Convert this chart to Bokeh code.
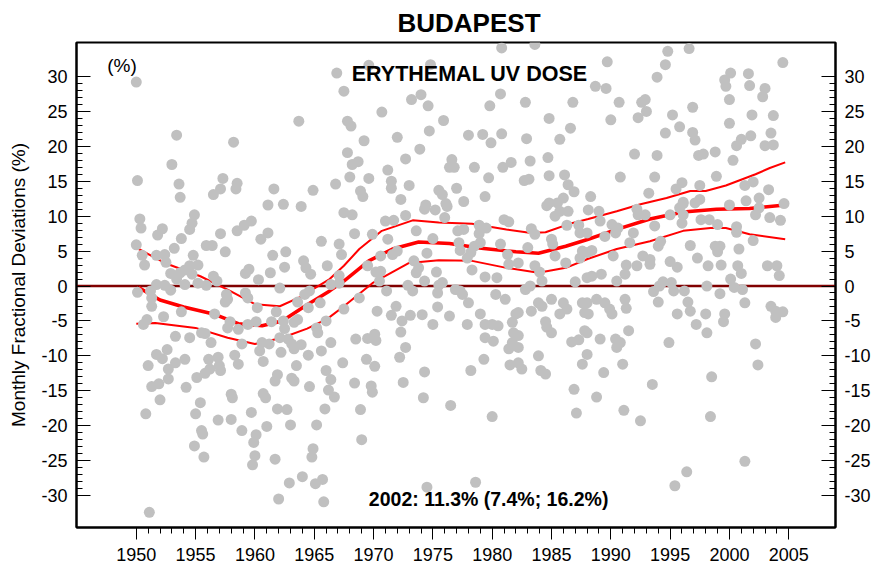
from bokeh.plotting import figure
from bokeh.models import (Range1d, LinearAxis, FixedTicker, Span, Label, Title,
                          ColumnDataSource, PrintfTickFormatter)
from bokeh.embed import file_html
from bokeh.resources import INLINE

# ---------------- data ----------------
# monthly fractional deviations (%), grouped by region of the chart
yr_a1 = [1950.0, 1966.9, 1967.5, 1963.7, 1953.4, 1958.2, 1953.0, 1950.1, 1953.6, 1953.7,
         1957.3, 1958.5, 1958.4, 1957.1, 1956.5, 1961.6, 1964.9, 1966.8, 1961.1, 1962.4,
         1963.9]
dv_a1 = [29.2, 30.5, 27.9, 23.6, 21.6, 20.6, 17.4, 15.1, 14.6, 12.7,
         15.4, 14.7, 13.9, 13.9, 13.1, 13.9, 13.7, 14.6, 11.6, 11.7,
         11.4]

yr_a2 = [1967.5, 1950.3, 1950.4, 1954.9, 1954.7, 1954.5, 1952.2, 1951.8, 1953.8, 1953.2,
         1950.0, 1950.5, 1950.7, 1951.7, 1952.4, 1952.5, 1957.1, 1958.5, 1959.1, 1959.7,
         1961.1, 1960.5, 1955.9, 1956.4, 1957.5, 1954.8, 1961.5, 1962.6, 1965.6, 1967.1,
         1967.3, 1962.5, 1964.1, 1964.7, 1964.3, 1966.1, 1961.3, 1959.5, 1959.2, 1960.3,
         1955.2, 1954.5, 1954.1, 1953.7, 1952.9, 1953.4, 1954.7, 1956.5, 1956.8, 1955.9,
         1955.2, 1954.1, 1952.9, 1952.4, 1951.7, 1951.2, 1950.1, 1962.1, 1957.6, 1957.7,
         1957.5, 1959.2, 1959.4, 1964.2, 1964.6, 1966.4, 1967.1, 1951.3, 1951.3, 1963.6,
         1965.5, 1967.5, 1964.5, 1960.2, 1961.8, 1953.8, 1956.6, 1952.3, 1950.9, 1950.6,
         1957.9, 1957.7, 1958.6, 1959.4, 1960.1, 1961.4, 1962.4, 1962.5, 1963.3, 1963.6,
         1966.0, 1965.2, 1965.3, 1953.3, 1954.5, 1955.5, 1955.8, 1956.3, 1958.9, 1960.6,
         1960.4, 1961.2, 1962.1, 1962.8, 1963.1, 1963.9, 1963.3, 1964.5, 1966.4, 1965.6,
         1967.4, 1951.7, 1952.6, 1951.0, 1952.2, 1953.3, 1954.1, 1952.7, 1956.1, 1956.9,
         1958.3, 1958.6, 1957.0, 1956.2, 1960.7, 1963.5, 1962.2]
dv_a2 = [10.5, 9.6, 8.3, 10.2, 9.0, 8.1, 8.2, 7.3, 6.8, 5.4,
         5.9, 4.4, 3.0, 4.4, 4.5, 3.4, 7.5, 7.9, 8.7, 9.3,
         7.6, 6.7, 5.8, 5.8, 4.9, 4.4, 4.4, 4.9, 6.4, 6.0,
         4.5, 2.7, 3.6, 1.7, 2.6, 2.9, 1.9, 2.4, 1.8, 0.9,
         3.0, 2.9, 2.3, 1.9, 1.8, 1.0, 1.7, 1.4, 0.7, 0.1,
         0.4, 0.2, -0.6, 0.1, 0.2, -0.7, -0.9, -0.3, -1.2, -1.9,
         -2.3, -1.0, -1.7, -1.2, -0.7, 0.2, 0.4, -1.7, -2.9, -2.3,
         -2.4, -3.3, -3.1, -3.1, -3.7, -3.7, -4.0, -4.4, -4.8, -5.5,
         -5.1, -6.0, -6.2, -5.5, -5.1, -5.1, -5.0, -6.1, -5.2, -4.8,
         -5.0, -6.0, -6.7, -7.2, -7.4, -6.7, -6.8, -8.1, -8.3, -8.1,
         -9.3, -8.3, -7.4, -7.6, -8.3, -8.4, -9.0, -9.9, -8.1, -9.3,
         -11.0, -9.8, -9.1, -11.4, -10.4, -11.0, -10.5, -11.9, -10.5, -10.2,
         -9.9, -11.2, -11.4, -11.9, -10.8, -11.4, -9.5]

yr_a3 = [1951.3, 1951.9, 1952.7, 1952.0, 1950.8, 1951.1, 1954.2, 1955.1, 1955.8, 1957.1,
         1955.4, 1955.0, 1955.5, 1955.6, 1954.9, 1955.7, 1956.9, 1958.0, 1958.1, 1958.0,
         1958.9, 1959.7, 1960.1, 1959.9, 1960.0, 1959.8, 1960.7, 1960.9, 1961.0, 1961.7,
         1961.7, 1961.9, 1961.9, 1962.7, 1963.0, 1963.1, 1963.3, 1962.0, 1962.9, 1964.0,
         1964.6, 1965.2, 1964.9, 1964.8, 1965.1, 1965.7, 1965.8, 1965.9, 1966.0, 1966.4,
         1966.2, 1966.7]
dv_a3 = [-14.4, -14.0, -13.3, -16.3, -18.3, -32.4, -14.5, -13.1, -12.5, -12.1,
         -16.7, -18.3, -20.7, -21.2, -22.9, -24.5, -19.2, -15.5, -16.0, -19.1,
         -20.7, -18.1, -21.3, -22.4, -24.3, -25.6, -15.4, -16.0, -20.1, -24.8,
         -13.6, -12.7, -17.6, -17.7, -19.9, -13.2, -13.6, -30.5, -28.2, -27.3,
         -14.4, -19.9, -23.3, -24.5, -28.3, -27.7, -30.9, -17.6, -12.1, -13.4,
         -14.9, -15.9]

yr_b1 = [1980.8, 1983.6, 1969.6, 1974.8, 1974.0, 1973.2, 1974.6, 1970.7, 1980.7, 1979.8,
         1982.8, 1986.8, 1984.8, 1986.6, 1985.7, 1967.8, 1968.1, 1975.9, 1974.7, 1972.0,
         1969.2, 1978.0, 1979.2, 1979.9, 1980.8, 1982.9, 1973.9, 1972.7, 1967.8, 1968.2,
         1968.7, 1968.0, 1969.6, 1971.2, 1971.5, 1971.5, 1973.0, 1976.6, 1976.4, 1976.8,
         1978.5, 1979.7, 1980.9, 1981.6, 1983.2, 1984.7, 1984.8, 1986.1, 1982.7, 1983.1,
         1986.4, 1986.9, 1975.5, 1975.8, 1977.0, 1979.4, 1972.3, 1968.9, 1969.1, 1986.0,
         1984.8, 1976.1, 1977.6, 1974.4]
dv_b1 = [34.1, 34.6, 31.6, 31.7, 27.4, 26.7, 25.8, 24.9, 27.5, 25.8,
         26.3, 26.3, 24.0, 22.6, 21.0, 23.6, 22.9, 23.7, 22.2, 21.3,
         20.8, 21.6, 21.7, 20.5, 21.8, 21.1, 19.6, 18.2, 19.1, 17.4,
         17.8, 15.6, 15.4, 16.6, 15.0, 14.0, 14.4, 18.1, 17.0, 17.0,
         17.0, 15.5, 17.0, 17.7, 17.9, 18.4, 15.8, 15.9, 15.1, 15.3,
         14.5, 13.5, 13.7, 13.1, 14.0, 12.8, 12.4, 13.6, 12.8, 12.6,
         11.9, 11.8, 12.1, 11.6]

yr_b2 = [1976.2, 1968.2, 1968.4, 1971.0, 1971.7, 1972.7, 1974.3, 1975.2, 1976.0, 1969.9,
         1971.2, 1973.6, 1975.0, 1977.1, 1977.6, 1978.9, 1979.5, 1981.0, 1981.4, 1978.9,
         1979.0, 1978.5, 1977.2, 1977.3, 1980.7, 1983.0, 1983.3, 1983.6, 1984.6, 1985.5,
         1985.7, 1986.4, 1985.3, 1985.0, 1985.1, 1986.3, 1987.3, 1987.4, 1987.6, 1987.4,
         1985.3, 1986.2, 1969.5, 1970.2, 1970.6, 1970.5, 1970.6, 1971.6, 1972.0, 1973.4,
         1973.6, 1973.8, 1974.3, 1972.9, 1974.5, 1975.3, 1977.9, 1978.2, 1978.3, 1979.4,
         1980.4, 1981.3, 1981.4, 1982.2, 1983.6, 1984.0, 1982.8, 1983.2, 1984.2, 1987.0,
         1967.1, 1968.8, 1971.1, 1973.3, 1975.5, 1975.4, 1975.8, 1976.9, 1977.3, 1977.5,
         1978.0, 1980.3, 1981.1, 1975.4, 1971.9, 1970.3, 1971.5, 1972.4, 1973.1, 1974.1,
         1976.4, 1977.9, 1979.0, 1979.4, 1980.0, 1980.5, 1981.7, 1982.2, 1982.0, 1983.3,
         1983.9, 1984.2, 1985.0, 1984.5, 1984.6, 1986.0, 1986.3, 1987.6, 1987.8, 1985.7,
         1981.8, 1982.2, 1981.7, 1980.1, 1968.5, 1969.5, 1970.2, 1970.1, 1972.3, 1972.7,
         1972.2, 1969.4, 1970.1, 1979.4, 1979.3, 1981.4, 1982.2, 1983.9, 1985.0, 1986.7,
         1987.3, 1987.8, 1988.0, 1975.0]
dv_b2 = [11.4, 10.2, 7.5, 9.3, 9.4, 10.1, 11.0, 10.9, 9.8, 7.4,
         6.7, 7.9, 6.8, 7.9, 8.1, 8.7, 8.3, 9.5, 9.2, 7.5,
         6.2, 5.7, 6.2, 5.1, 6.0, 5.5, 8.2, 7.4, 11.5, 11.9,
         10.7, 10.7, 10.0, 6.7, 6.0, 8.7, 8.7, 7.6, 5.0, 4.0,
         4.3, 3.3, 2.9, 2.0, 2.1, 0.7, 4.3, 4.5, 5.0, 3.6,
         1.9, 2.6, 0.7, 0.1, 4.7, 2.0, 4.0, 4.8, 2.3, 1.3,
         1.2, 4.5, 3.1, 3.3, 2.9, 2.0, -0.5, 0.0, 0.7, 0.6,
         1.5, -1.7, -0.7, -0.7, 0.1, -1.0, 0.5, -0.5, -0.7, -1.2,
         -2.4, -1.2, -1.9, -3.0, -2.9, -3.6, -4.2, -5.0, -4.2, -4.1,
         -4.3, -5.5, -4.0, -5.5, -5.5, -5.7, -5.2, -3.8, -4.0, -3.6,
         -2.4, -2.9, -1.9, -5.1, -5.9, -2.4, -3.3, -2.4, -3.8, -4.0,
         -6.7, -7.1, -8.1, -7.9, -7.6, -7.5, -7.8, -6.9, -6.6, -8.8,
         -10.2, -10.5, -11.5, -7.4, -10.5, -9.0, -8.8, -10.0, -6.7, -8.0,
         -7.7, -6.4, -9.8, -5.5]

yr_b3 = [1968.4, 1969.8, 1969.9, 1968.9, 1969.0, 1974.3, 1972.5, 1974.2, 1976.5, 1974.5,
         1978.6, 1978.2, 1980.0, 1981.5, 1982.2, 1982.5, 1984.1, 1984.5, 1986.9, 1987.1,
         1987.6]
dv_b3 = [-13.9, -14.3, -15.2, -17.7, -22.0, -12.3, -13.8, -16.0, -17.1, -28.8,
         -28.1, -12.1, -18.7, -11.3, -11.0, -11.9, -12.1, -12.6, -14.8, -18.2,
         -11.2]

yr_c1 = [1996.6, 1994.8, 1989.7, 2004.5, 1994.6, 2000.1, 2001.6, 1999.6, 1993.9, 1988.7,
         1989.6, 1999.7, 2001.7, 2003.0, 2002.8, 2000.0, 1990.7, 1992.9, 1992.6, 1993.0,
         1992.3, 1996.9, 1995.2, 1990.0, 2001.9, 2003.7, 2000.0, 1995.8, 1994.6, 1996.9,
         1997.1, 2001.0, 2001.8, 2000.6, 2003.5, 2003.0, 2003.7, 1992.0, 1993.9, 1997.4,
         1997.8, 1998.8, 2000.3, 1990.8, 1993.7, 1998.9, 1995.5, 1996.0, 1997.5, 1993.2,
         2001.3, 2002.0, 2003.3, 1988.3, 1997.5, 2000.0, 2001.4, 2002.5, 2004.6, 1996.1]
dv_c1 = [34.0, 33.6, 32.1, 32.0, 31.7, 30.5, 30.4, 29.5, 29.9, 28.6,
         28.3, 28.6, 28.7, 28.3, 27.1, 26.7, 26.3, 26.7, 26.3, 25.0,
         24.1, 25.6, 24.5, 23.8, 24.5, 24.4, 23.3, 22.8, 21.9, 22.0,
         20.9, 21.0, 21.5, 20.1, 21.9, 20.1, 20.2, 18.9, 18.7, 18.7,
         18.9, 19.2, 18.0, 15.6, 15.6, 15.7, 13.9, 14.8, 14.4, 13.3,
         14.4, 14.9, 13.8, 12.8, 12.4, 11.6, 12.2, 12.6, 11.8, 11.8]

yr_c2 = [1988.1, 1989.0, 1989.1, 1988.0, 1990.1, 1990.6, 1990.4, 1989.5, 1991.9, 1991.6,
         1992.2, 1992.3, 1992.9, 1993.7, 1995.0, 1995.8, 1996.1, 1996.1, 1996.0, 1997.1,
         1997.6, 1998.3, 1999.0, 2002.5, 2002.2, 2003.4, 2004.3, 2000.6, 2000.6, 2002.0,
         1988.0, 1988.4, 1990.2, 1994.2, 1994.0, 1996.7, 1998.8, 1999.2, 1999.0, 2000.8,
         1997.3, 1992.7, 1993.3, 1993.3, 1991.3, 1992.2, 1995.0, 1995.6, 1998.2, 1999.3,
         2000.7, 2001.0, 2003.2, 2004.0, 2004.2, 1988.0, 1988.4, 1989.2, 1990.5, 1991.2,
         1994.4, 1994.1, 1993.6, 1995.1, 1995.3, 1996.2, 1998.1, 1999.2, 2000.1, 2000.4,
         2001.1, 1994.0, 1996.5, 1996.7, 1995.6, 1998.0, 1999.6, 1999.5, 2001.3, 2003.5,
         2003.9, 2004.5, 2003.9, 1997.2, 1998.1, 1994.9, 2002.2, 1988.0, 1988.8, 1989.5,
         1989.9, 1990.1, 1991.2, 1991.3, 1988.1, 1988.0, 1989.1, 1990.4, 1990.8, 1990.5,
         1991.5]
dv_c2 = [10.9, 10.7, 9.3, 7.6, 8.8, 8.3, 7.6, 7.1, 7.6, 6.2,
         11.0, 10.2, 10.2, 8.6, 10.2, 11.2, 12.0, 10.2, 9.0, 11.9,
         9.5, 9.5, 8.8, 11.2, 10.2, 9.8, 9.4, 8.5, 7.7, 6.5,
         4.8, 5.1, 4.3, 6.4, 5.7, 5.8, 5.7, 5.7, 4.9, 5.3,
         4.0, 4.3, 3.8, 3.1, 3.0, 2.9, 3.5, 2.7, 2.9, 3.0,
         2.9, 1.8, 2.9, 2.9, 1.5, 1.2, 1.4, 1.7, 0.7, 1.7,
         0.6, 0.0, -0.8, 0.5, -0.7, -0.7, 0.0, -1.1, 1.0, -0.2,
         -0.5, -2.3, -2.3, -3.6, -4.0, -4.0, -4.0, -5.1, -2.4, -2.9,
         -3.6, -3.7, -4.5, -5.5, -6.7, -8.1, -8.3, -2.4, -1.9, -2.4,
         -3.3, -4.0, -1.9, -3.2, -4.0, -6.7, -7.6, -7.6, -8.1, -8.8,
         -6.4]

yr_c3 = [1989.4, 1991.0, 1988.8, 1991.1, 1992.5, 1993.5, 1998.5, 1998.4, 2002.4, 2001.3,
         1996.4, 1995.4]
dv_c3 = [-12.4, -11.2, -15.9, -17.8, -19.3, -14.1, -13.0, -18.7, -11.3, -25.1,
         -26.6, -28.6]

# trend (thick) and its confidence band (thin)
trend_year = [1950.2, 1952.0, 1954.0, 1956.5, 1958.6, 1960.6, 1962.3, 1964.2, 1966.3, 1967.5,
              1969.6, 1971.6, 1973.8, 1976.4, 1979.1, 1982.0, 1983.9, 1986.2, 1988.1, 1990.5,
              1993.3, 1996.1, 1998.9, 2001.7, 2004.7]
trend_val = [-0.2, -2.0, -3.0, -4.0, -5.4, -5.7, -5.0, -2.9, -0.7, 0.7,
             3.6, 5.3, 6.3, 6.1, 5.4, 4.9, 4.7, 5.7, 6.7, 8.1,
             9.6, 10.6, 11.0, 11.1, 11.6]
upper_year = [1950.2, 1952.4, 1955.4, 1957.9, 1960.0, 1962.1, 1963.8, 1966.3, 1967.5, 1968.8,
              1970.7, 1973.3, 1975.5, 1978.3, 1981.2, 1983.3, 1984.5, 1986.7, 1988.1, 1990.5,
              1992.5, 1994.7, 1996.7, 1998.0, 1999.7, 2002.2, 2003.4, 2004.7]
upper_val = [5.3, 3.3, 1.4, -0.7, -2.6, -2.9, -1.6, 1.0, 2.9, 5.3,
             7.9, 9.4, 9.1, 8.9, 8.1, 7.6, 7.7, 9.0, 9.6, 10.7,
             11.7, 12.6, 13.6, 13.6, 14.4, 16.0, 16.9, 17.7]
lower_year = [1950.0, 1951.6, 1955.0, 1957.7, 1960.0, 1962.3, 1964.4, 1966.1, 1967.5, 1969.9,
              1973.0, 1975.5, 1978.3, 1981.2, 1983.9, 1986.2, 1988.1, 1990.5, 1993.3, 1996.1,
              1998.4, 1999.7, 2001.7, 2004.7]
lower_val = [-5.4, -5.3, -6.0, -7.4, -8.3, -7.4, -6.1, -4.7, -2.9, 0.4,
             3.3, 3.7, 3.6, 2.6, 1.9, 2.6, 3.9, 5.3, 6.4, 7.9,
             8.3, 8.3, 7.4, 6.7]

y_major = [-30, -25, -20, -15, -10, -5, 0, 5, 10, 15, 20, 25, 30]
x_major = [1950, 1955, 1960, 1965, 1970, 1975, 1980, 1985, 1990, 1995, 2000, 2005]

title_text = "BUDAPEST"
subtitle_text = "ERYTHEMAL UV DOSE"
unit_text = "(%)"
note_text = "2002: 11.3% (7.4%; 16.2%)"
ylabel_text = "Monthly Fractional Deviations (%)"

# ---------------- figure ----------------
FONT = "Liberation Sans"
obs_year = yr_a1 + yr_a2 + yr_a3 + yr_b1 + yr_b2 + yr_b3 + yr_c1 + yr_c2 + yr_c3
obs_dev = dv_a1 + dv_a2 + dv_a3 + dv_b1 + dv_b2 + dv_b3 + dv_c1 + dv_c2 + dv_c3
src = ColumnDataSource(data=dict(x=obs_year, y=obs_dev))

p = figure(width=873, height=568, output_backend="svg", toolbar_location=None,
           x_range=Range1d(1944.96, 2008.94), y_range=Range1d(-34.58, 34.87),
           min_border_left=76, min_border_right=35, min_border_top=42, min_border_bottom=41,
           background_fill_color="white", border_fill_color="white")
p.xgrid.visible = False
p.ygrid.visible = False
p.outline_line_color = "black"
p.outline_line_width = 2

title = Title(text=title_text, align="left", offset=321, standoff=10,
              text_font=FONT, text_font_size="26px", text_font_style="bold", text_color="black")
p.add_layout(title, "above")

# axes
xa = p.xaxis[0]
xa.ticker = FixedTicker(ticks=x_major, minor_ticks=list(range(1950, 2006)))
xa.formatter = PrintfTickFormatter(format="%d")
xa.major_tick_in = 0
xa.major_tick_out = 12
xa.minor_tick_in = 0
xa.minor_tick_out = 6
xa.axis_line_width = 2
xa.major_tick_line_width = 1
xa.major_label_standoff = 8
xa.major_label_text_font = FONT
xa.major_label_text_font_size = "18px"
xa.major_label_text_color = "black"

ya = p.yaxis[0]
ra = LinearAxis()
p.add_layout(ra, "right")
for ax in (ya, ra):
    ax.ticker = FixedTicker(ticks=y_major, minor_ticks=list(range(-30, 31)))
    ax.formatter = PrintfTickFormatter(format="%d")
    ax.major_tick_in = 14
    ax.major_tick_out = 0
    ax.minor_tick_in = 6
    ax.minor_tick_out = 0
    ax.axis_line_width = 2
    ax.major_label_standoff = 9
    ax.major_label_text_font = FONT
    ax.major_label_text_font_size = "18px"
    ax.major_label_text_color = "black"
ya.axis_label = ylabel_text
ya.axis_label_text_font = FONT
ya.axis_label_text_font_size = "19px"
ya.axis_label_text_font_style = "normal"
ya.axis_label_text_color = "black"
ya.axis_label_standoff = 9

# zero line
zero = Span(location=0, dimension="width", line_color="#800000", line_width=2.5, level="underlay")
p.add_layout(zero)

# trend curves
p.line(upper_year, upper_val, line_color="#FF0000", line_width=2)
p.line(lower_year, lower_val, line_color="#FF0000", line_width=2)
p.line(trend_year, trend_val, line_color="#FF0000", line_width=3.5)

# observations
p.scatter("x", "y", source=src, size=11, fill_color="#C0C0C0", line_color=None)

# texts inside the frame
p.add_layout(Label(x=1948.8, y=31.6, text=unit_text, text_align="center", text_baseline="middle",
                   text_font=FONT, text_font_size="19px", text_color="black"))
p.add_layout(Label(x=1978.1, y=30.3, text=subtitle_text, text_align="center", text_baseline="middle",
                   text_font=FONT, text_font_size="21.5px", text_font_style="bold", text_color="black"))
p.add_layout(Label(x=1979.7, y=-30.5, text=note_text, text_align="center", text_baseline="middle",
                   text_font=FONT, text_font_size="19.5px", text_font_style="bold", text_color="black"))

open("out.html", "w").write(file_html(p, INLINE))
